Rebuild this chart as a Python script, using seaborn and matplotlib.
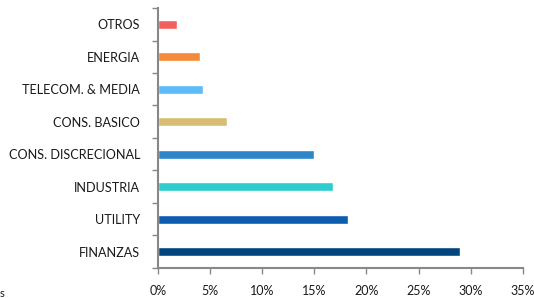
import numpy as np
import pandas as pd
import seaborn as sns
import matplotlib.pyplot as plt
from matplotlib.ticker import PercentFormatter, FixedLocator

sectors = ['OTROS', 'ENERGIA', 'TELECOM. & MEDIA', 'CONS. BASICO',
           'CONS. DISCRECIONAL', 'INDUSTRIA', 'UTILITY', 'FINANZAS']
weights = [1.8, 4.0, 4.3, 6.6, 15.0, 16.8, 18.2, 29.0]
colors = ['#F25F5C', '#F58A3A', '#5BBCF8', '#D8BE75',
          '#2E86C9', '#2ECDCD', '#0C5DB0', '#01457F']

df = pd.DataFrame({'Sector': sectors, 'Peso': weights})

sns.set_style('white')
plt.rcParams['font.family'] = ['Lato', 'DejaVu Sans']

fig = plt.figure(figsize=(5.34, 2.98), dpi=100)
ax = fig.add_axes([0.296, 0.101, 0.683, 0.872])

sns.barplot(data=df, x='Peso', y='Sector', hue='Sector', palette=colors,
            legend=False, width=0.28, saturation=1, ax=ax, orient='h')

ax.set_xlim(0, 35)
ax.set_ylim(len(sectors) - 0.5, -0.5)
ax.set_xticks(np.arange(0, 36, 5))
ax.xaxis.set_major_formatter(PercentFormatter(decimals=0))
ax.set_xlabel('')
ax.set_ylabel('')

# Excel-style ticks between categories
ax.yaxis.set_minor_locator(FixedLocator(np.arange(-0.5, len(sectors), 1)))
ax.tick_params(axis='y', which='major', length=0, pad=13, labelsize=9.1, colors='#1a1a1a')
ax.tick_params(axis='y', which='minor', length=4, color='#888888', width=1)
ax.tick_params(axis='x', which='major', length=4, color='#888888', width=1,
               labelsize=9, labelcolor='#1a1a1a', direction='out', pad=8)
ax.tick_params(left=True, bottom=True, which='both')

sns.despine(ax=ax)
for s in ['left', 'bottom']:
    ax.spines[s].set_color('#888888')
    ax.spines[s].set_linewidth(1.5)

fig.text(0.0, 0.005, 's', fontsize=8, color='#1a1a1a')

fig.savefig('out.png', dpi=100)
